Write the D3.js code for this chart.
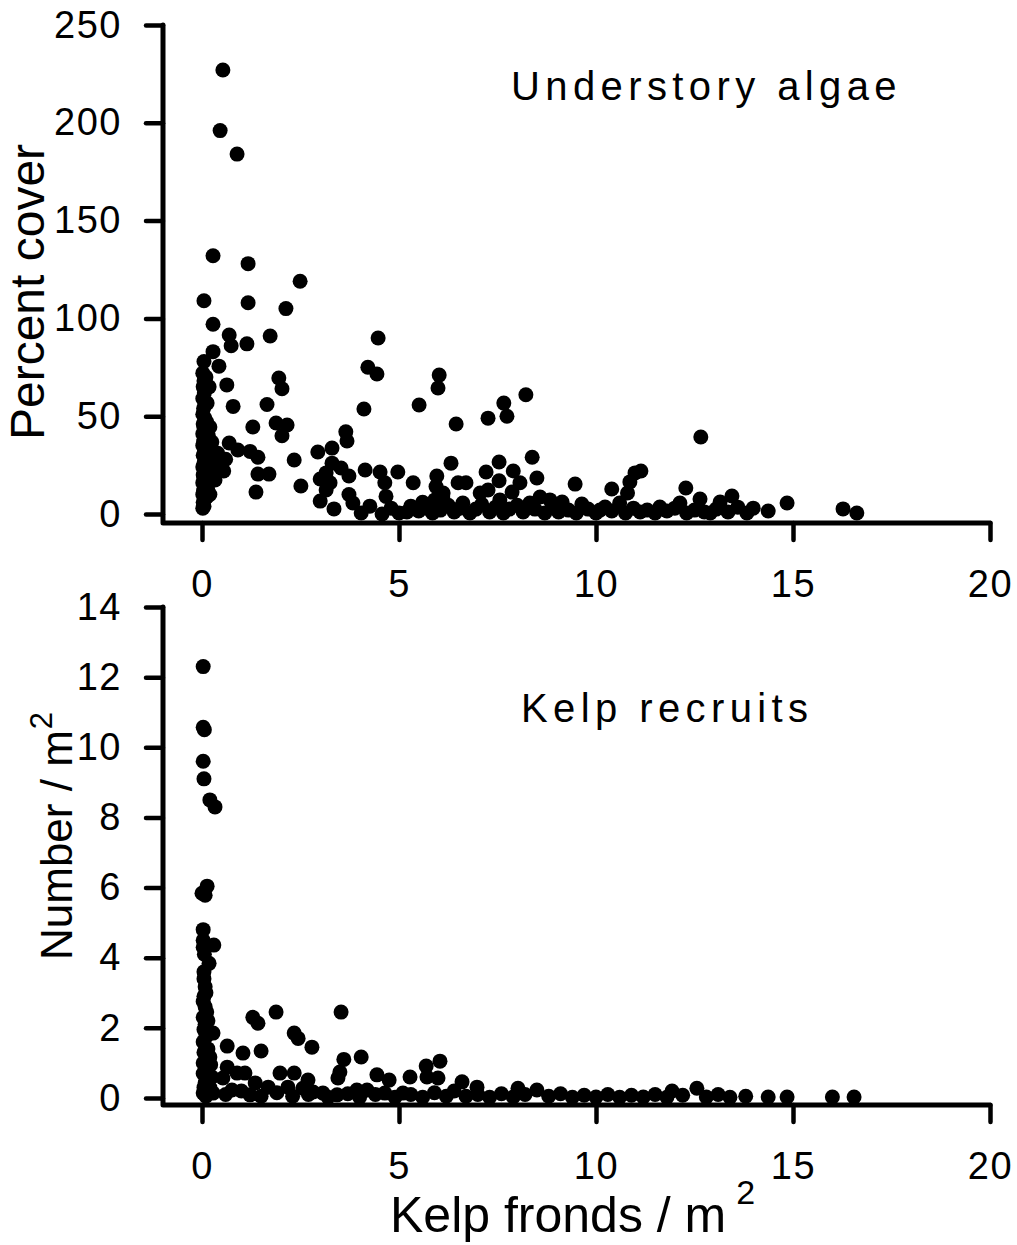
<!DOCTYPE html>
<html>
<head>
<meta charset="utf-8">
<script src="https://cdn.jsdelivr.net/npm/d3@7/dist/d3.min.js"></script>
<style>
  html, body { margin: 0; padding: 0; background: #fff; }
  svg text { font-family: "Liberation Sans", Arial, sans-serif; fill: #000; }
</style>
</head>
<body>
<svg id="chart" width="1017" height="1245"></svg>
<script>
// ---------- DATA ----------
const xTickValues = [0, 5, 10, 15, 20];
const algaeTickValues = [0, 50, 100, 150, 200, 250];
const recruitTickValues = [0, 2, 4, 6, 8, 10, 12, 14];

// Understory algae: [kelp fronds / m2, percent cover]
const algaePoints = [
  [0.53,227],[0.46,196],[0.89,184],[0.28,132],[1.17,128],[2.49,119],[0.05,109],[1.17,108],[2.13,105],
  [0.28,97],[0.69,91.5],[1.73,91],[4.47,90],[0.74,86],[1.14,87],[0.28,83],[0.05,78],[0.43,75.6],
  [0.63,66],[1.95,69.5],[2.03,64],[0.79,55],[1.65,56],[4.21,75],[4.44,71.6],[4.11,53.7],[6.02,71],
  [5.99,64.4],[5.51,55.7],[1.29,44.5],[1.88,46.5],[2.16,45.5],[2.03,40],[0.69,36.3],[0.91,32.7],
  [1.22,32],[1.42,29],[2.34,27.6],[1.42,20.4],[1.70,20.4],[1.37,11.2],[2.51,14.3],[0.48,27],[0.46,24],
  [0.33,17.4],[0.25,36.8],[0.18,65],[0.13,56.7],[0.2,44.5],[0.15,22.5],[0.12,8.7],[0.55,22],[0.6,28],
  [2.94,31.7],[3.3,33.7],[3.65,42],[3.68,37.3],[3.0,17.9],[3.15,21],[3.3,26],[3.53,23.5],[3.73,19.4],
  [3.25,16],[3.15,12.3],[3.0,6.6],[3.35,2.6],[3.73,10],[3.83,5.6],[4.04,0.5],[4.26,4],[4.57,0],
  [4.14,22.5],[4.52,21.5],[4.64,16],[4.67,9],[4.97,21.5],[5.2,1],[5.36,16],[5.6,6],[5.96,19.4],
  [5.94,14],[6.11,8.7],[6.45,46],[6.32,26],[7.26,49],[7.66,56.7],[7.74,50],[8.22,61],[12.66,39.4],
  [6.5,16],[6.7,16],[7.21,21.5],[7.54,26.6],[7.9,22],[8.38,29],[8.5,18.4],[7.54,17],[8.07,16],
  [7.87,11.2],[7.06,10.7],[7.26,12.3],[6.12,10.7],[9.47,15.3],[10.4,12.8],[10.8,10.7],[10.86,16.4],
  [10.99,21],[11.14,22],[12.28,13.3],[12.64,7.7],[12.13,5.6],[13.15,6.1],[13.45,9.2],[8.58,8.7],
  [8.83,7.2],[9.14,6.1],[9.64,5.1],[10.23,3.6],[10.6,5.6],[11.62,3.6],[11.12,1],[5.91,7.2],[6.62,5.6],
  [7.56,7.2],[8.32,5.6],[13.35,1],[12.9,0.5],[13.83,0.5],[13.99,3],[14.37,1.5],[14.85,5.6],[16.27,2.6],
  [16.62,0.5],
  // column near zero fronds
  [0.02,72],[0.05,68],[0.03,65],[0.06,62],[0.02,59],[0.08,57],[0.04,54],[0.02,51],[0.07,49],[0.03,46],
  [0.05,44],[0.02,41],[0.08,39],[0.04,37],[0.02,35],[0.06,33],[0.03,30],[0.09,28],[0.05,26],[0.02,24],
  [0.07,22],[0.03,20],[0.05,18],[0.02,16],[0.08,14],[0.04,12],[0.02,10],[0.06,8],[0.03,6],[0.05,4],
  [0.02,3],[0.15,30],[0.18,25],[0.22,19],[0.14,13],[0.2,10],[0.12,47],[0.16,40],[0.25,33],[0.1,70],
  [0.3,21],[0.35,28],[0.4,31],
  // low band
  [4.8,3],[5.0,0.5],[5.3,4],[5.5,1.5],[5.7,3],[5.85,0.5],[6.05,2],[6.25,4.5],[6.4,1],[6.55,3],[6.8,0.5],
  [6.95,2.5],[7.1,5],[7.3,1],[7.45,3.5],[7.65,0.5],[7.8,2.5],[8.0,4.5],[8.15,1],[8.45,2.5],[8.7,0.5],
  [8.95,3],[9.05,1],[9.3,2],[9.5,0.5],[9.8,2.5],[10.0,0.5],[10.1,2],[10.4,1.5],[10.75,0.5],[10.95,3],
  [11.3,2],[11.5,0.5],[11.8,1.5],[12.0,3],[12.3,0.5],[12.5,2],[12.75,1],[13.05,2.5],[13.6,3.5]
];

// Kelp recruits: [kelp fronds / m2, number / m2]
const recruitPoints = [
  [0.03,12.3],[0.03,10.57],[0.06,10.5],[0.03,9.6],[0.05,9.1],[0.2,8.5],[0.33,8.3],[0.13,6.04],[0.0,5.84],
  [0.08,5.78],[0.03,4.8],[0.03,4.5],[0.3,4.36],[0.03,4.3],[0.18,3.84],[0.05,3.4],[0.08,3.17],[0.05,2.9],
  [0.08,2.6],[0.03,2.3],[0.08,2.1],[0.28,1.85],[0.03,1.6],[0.2,1.17],[0.03,1.0],[0.03,0.7],[0.08,0.43],
  [0.03,0.14],[0.28,0.14],[0.05,3.6],[0.1,3.0],[0.03,2.75],[0.12,2.45],[0.05,1.95],[0.1,1.75],[0.15,1.4],
  [0.05,1.3],[0.1,0.85],[0.15,0.55],[0.05,0.3],[0.2,0.3],[0.1,0.05],[0.25,0.6],[0.22,0.95],[0.15,2.2],
  [0.06,4.1],
  [0.64,1.48],[1.04,1.28],[1.29,2.3],[1.42,2.13],[1.5,1.34],[1.88,2.45],[2.34,1.85],[2.44,1.7],[2.79,1.45],
  [3.53,2.45],[3.6,1.1],[3.5,0.74],[3.45,0.57],[4.04,1.17],[4.44,0.66],[4.75,0.51],[5.28,0.6],[5.69,0.91],
  [6.04,1.05],[5.99,0.57],[0.64,0.88],[0.89,0.71],[1.09,0.71],[1.35,0.43],[1.98,0.71],[2.34,0.71],
  [2.69,0.51],[2.18,0.31],[1.68,0.31],[0.53,0.57],[0.76,0.23],[1.22,0.09],[2.56,0.28],[2.82,0.17],
  [3.07,0.14],[3.43,0.09],[3.93,0.23],[4.19,0.23],[4.64,0.14],[5.1,0.14],[5.71,0.6],[6.6,0.46],[6.98,0.31],
  [8.02,0.28],[8.5,0.23],[11.93,0.2],[12.56,0.28],[14.37,0.03],[14.85,0.03],[16.0,0.03],[16.55,0.03],
  // low band
  [0.6,0.1],[1.0,0.2],[1.5,0.05],[1.9,0.15],[2.3,0.05],[2.7,0.1],[3.2,0.02],[3.7,0.12],[4.0,0.02],[4.4,0.1],
  [4.9,0.02],[5.3,0.1],[5.6,0.02],[5.9,0.15],[6.2,0.05],[6.4,0.2],[6.7,0.05],[7.0,0.1],[7.3,0.02],[7.6,0.12],
  [7.9,0.03],[8.2,0.1],[8.8,0.05],[9.1,0.12],[9.4,0.02],[9.7,0.08],[10.0,0.03],[10.3,0.1],[10.6,0.02],
  [10.9,0.08],[11.2,0.03],[11.5,0.1],[11.8,0.02],[12.2,0.08],[12.8,0.03],[13.1,0.1],[13.4,0.02],[13.8,0.05]
];

// ---------- DRAWING ----------
const svg = d3.select("#chart");
const axisX = 163;
const dotR = 7.5;

function panel(cfg) {
  const x = d3.scaleLinear().domain([0, 20]).range([202, 990]);
  const y = d3.scaleLinear().domain(cfg.yDomain).range(cfg.yRange);
  const g = svg.append("g");

  // points
  g.append("g").selectAll("circle").data(cfg.points).join("circle")
    .attr("cx", d => x(d[0])).attr("cy", d => y(d[1])).attr("r", dotR).attr("fill", "#000");

  // y axis
  const ya = g.append("g").attr("transform", `translate(${axisX},0)`)
    .call(d3.axisLeft(y).tickValues(cfg.yTicks).tickSize(17).tickPadding(24).tickSizeOuter(0));
  ya.select(".domain").remove();

  // x axis
  const xa = g.append("g").attr("transform", `translate(0,${cfg.axisY})`)
    .call(d3.axisBottom(x).tickValues(xTickValues).tickSize(17).tickPadding(30).tickSizeOuter(0));
  xa.select(".domain").remove();

  [ya, xa].forEach(a => {
    a.selectAll(".tick line").attr("stroke", "#000").attr("stroke-width", 4.5).attr("stroke-linecap", "round");
    a.selectAll(".tick text").attr("font-size", 38).attr("letter-spacing", "1.5px")
      .attr("font-family", '"Liberation Sans", Arial, sans-serif');
  });

  // axis lines (L shape)
  g.append("path")
    .attr("d", `M${axisX},${y(cfg.yDomain[1])}V${cfg.axisY}H${x(20)}`)
    .attr("fill", "none").attr("stroke", "#000").attr("stroke-width", 5)
    .attr("stroke-linejoin", "round").attr("stroke-linecap", "round");

  // title
  g.append("text").attr("x", cfg.titleX).attr("y", cfg.titleY)
    .attr("font-size", 40).attr("letter-spacing", "5.4px").text(cfg.title);
}

panel({
  points: algaePoints, yDomain: [0, 250], yRange: [514, 25], yTicks: algaeTickValues,
  axisY: 523, title: "Understory algae", titleX: 511, titleY: 100
});
panel({
  points: recruitPoints, yDomain: [0, 14], yRange: [1098, 607], yTicks: recruitTickValues,
  axisY: 1105, title: "Kelp recruits", titleX: 521, titleY: 722
});

// axis labels
svg.append("text").attr("transform", "translate(44,292) rotate(-90)")
  .attr("text-anchor", "middle").attr("font-size", 48).text("Percent cover");

const yl = svg.append("text").attr("transform", "translate(72,960) rotate(-90)")
  .attr("font-size", 44);
yl.append("tspan").text("Number / m");
yl.append("tspan").attr("font-size", 31).attr("dx", 1).attr("dy", -20).text("2");

const xl = svg.append("text").attr("x", 390).attr("y", 1232).attr("font-size", 50);
xl.append("tspan").text("Kelp fronds / m");
xl.append("tspan").attr("font-size", 34).attr("dx", 10).attr("dy", -28).text("2");
</script>
</body>
</html>
